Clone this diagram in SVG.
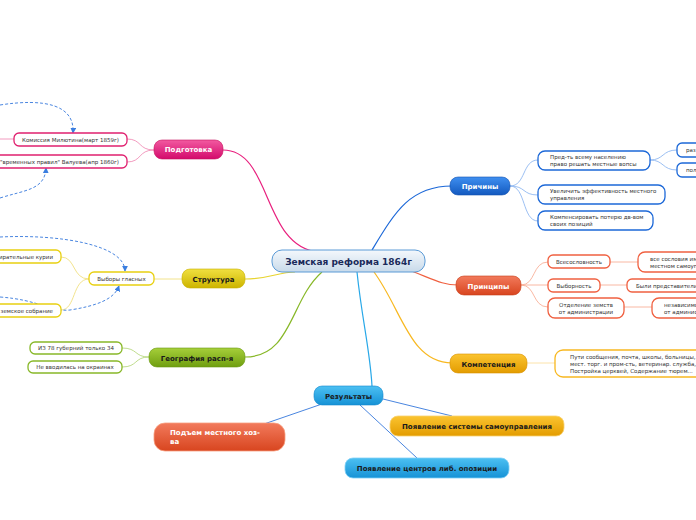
<svg xmlns="http://www.w3.org/2000/svg" width="696" height="520" viewBox="0 0 696 520">
<defs>
<linearGradient id="gC" x1="0" y1="0" x2="0" y2="1"><stop offset="0" stop-color="#f4f8fc"/><stop offset="1" stop-color="#c8daea"/></linearGradient>
<linearGradient id="gPink" x1="0" y1="0" x2="0" y2="1"><stop offset="0" stop-color="#f25aa0"/><stop offset="1" stop-color="#d30a6c"/></linearGradient>
<linearGradient id="gYel" x1="0" y1="0" x2="0" y2="1"><stop offset="0" stop-color="#f0e040"/><stop offset="1" stop-color="#cdb400"/></linearGradient>
<linearGradient id="gGrn" x1="0" y1="0" x2="0" y2="1"><stop offset="0" stop-color="#a6cf3a"/><stop offset="1" stop-color="#6f9e10"/></linearGradient>
<linearGradient id="gBlue" x1="0" y1="0" x2="0" y2="1"><stop offset="0" stop-color="#3f8ff0"/><stop offset="1" stop-color="#1359bf"/></linearGradient>
<linearGradient id="gRed" x1="0" y1="0" x2="0" y2="1"><stop offset="0" stop-color="#f27a5c"/><stop offset="1" stop-color="#d8451f"/></linearGradient>
<linearGradient id="gOr" x1="0" y1="0" x2="0" y2="1"><stop offset="0" stop-color="#fbc430"/><stop offset="1" stop-color="#e39c00"/></linearGradient>
<linearGradient id="gSky" x1="0" y1="0" x2="0" y2="1"><stop offset="0" stop-color="#4cc0f2"/><stop offset="1" stop-color="#1692d6"/></linearGradient>
<marker id="arr" viewBox="0 0 8 8" refX="7" refY="4" markerWidth="6" markerHeight="6" orient="auto"><path d="M0,0 L8,4 L0,8 z" fill="#3a7ee0"/></marker>
</defs>
<style>
text{font-family:"DejaVu Sans","Liberation Sans",sans-serif}
.s{font-size:5.5px;fill:#333}
.t{font-size:7px;font-weight:bold}
.w{fill:#fff}
.d{fill:#1a1a1a}
.leaf{fill:#fff;stroke-width:1.3}
.c{fill:none;stroke-width:1.2}
.dash{fill:none;stroke:#4a86e0;stroke-width:1;stroke-dasharray:3,2}
</style>

<g id="connectors">
<path class="c" stroke="#e8207e" d="M223,150 C272,150 262,246 318,252"/>
<path class="c" stroke="#1c68d8" d="M372,250 C395,212 410,186 452,186"/>
<path class="c" stroke="#f06040" d="M398,266 C432,278 440,285 458,285"/>
<path class="c" stroke="#f8b820" d="M374,272 C402,310 410,363 452,363"/>
<path class="c" stroke="#28a8e8" d="M357,272 C362,320 370,350 372,386"/>
<path class="c" stroke="#88b828" d="M322,272 C290,300 292,357 245,357"/>
<path class="c" stroke="#e8d430" d="M245,279 C270,279 278,272 295,272"/>
<g stroke-width="0.9" fill="none">
<path stroke="#f090b8" d="M154,150 C138,150 142,139 127,139"/>
<path stroke="#f090b8" d="M154,150 C138,150 142,162 127,162"/>
<path stroke="#f090b8" d="M0,139 L14,139"/>
<path stroke="#f0e080" d="M154,279 L182,279"/>
<path stroke="#f0e080" d="M89,279 C72,279 76,257 61,257"/>
<path stroke="#f0e080" d="M89,279 C72,279 76,310 61,310"/>
<path stroke="#b8d880" d="M149,357 C134,357 138,348 122,348"/>
<path stroke="#b8d880" d="M149,357 C134,357 138,367 122,367"/>
<path stroke="#90b8f0" d="M510,186 C526,186 522,160 538,160"/>
<path stroke="#90b8f0" d="M510,186 C526,186 522,195 538,195"/>
<path stroke="#90b8f0" d="M510,186 C526,186 522,221 538,221"/>
<path stroke="#90b8f0" d="M650,160 C664,160 662,150 677,150"/>
<path stroke="#90b8f0" d="M650,160 C664,160 662,170 677,170"/>
<path stroke="#f8b098" d="M521,285 C536,285 532,262 548,262"/>
<path stroke="#f8b098" d="M521,285 L548,285"/>
<path stroke="#f8b098" d="M521,285 C536,285 532,307 548,307"/>
<path stroke="#f8b098" d="M610,262 L638,262"/>
<path stroke="#f8b098" d="M600,285 L627,285"/>
<path stroke="#f8b098" d="M624,307 L652,307"/>
<path stroke="#fce0a0" d="M527,363 L555,363"/>
</g>
<g stroke="#4a86e0" stroke-width="1">
<path d="M322,404 L264,424"/>
<path d="M383,399 L452,416"/>
<path d="M360,405 L417,458"/>
</g>
<path class="dash" marker-end="url(#arr)" d="M0,105 C45,98 75,105 73,133"/>
<path class="dash" marker-end="url(#arr)" d="M0,198 C25,190 45,190 46,168"/>
<path class="dash" marker-end="url(#arr)" d="M0,237 C60,234 125,245 125,271"/>
<path class="dash" marker-end="url(#arr)" d="M0,297 C40,300 50,312 70,310 C95,306 114,300 119,286"/>
</g>

<g id="center">
<rect x="272" y="250" width="153" height="22" rx="10" fill="url(#gC)" stroke="#5a9ad6" stroke-width="1"/>
<text x="348.5" y="264.5" text-anchor="middle" font-size="9" font-weight="bold" fill="#1a2a5a">Земская реформа 1864г</text>
</g>

<g id="podgotovka">
<rect x="154" y="140" width="69" height="19" rx="8" fill="url(#gPink)" stroke="#c8105e" stroke-width="0.6"/>
<text class="t w" x="188.5" y="152" text-anchor="middle">Подготовка</text>
</g>
<g id="milutin">
<rect class="leaf" x="14" y="133" width="113" height="13" rx="5" stroke="#e0206f"/>
<text class="s" x="70.5" y="141.5" text-anchor="middle">Комиссия Милютина(март 1859г)</text>
</g>
<g id="valuev">
<rect class="leaf" x="-20" y="155" width="147" height="13" rx="5" stroke="#e0206f"/>
<text class="s" x="119" y="163.5" text-anchor="end">"временных правил" Валуева(апр 1860г)</text>
</g>

<g id="struktura">
<rect x="182" y="269" width="63" height="19" rx="8" fill="url(#gYel)" stroke="#c8b000" stroke-width="0.6"/>
<text class="t d" x="213.5" y="281.5" text-anchor="middle">Структура</text>
</g>
<g id="vybory">
<rect class="leaf" x="89" y="272" width="65" height="13" rx="5" stroke="#e8d010"/>
<text class="s" x="121.5" y="280.5" text-anchor="middle">Выборы гласных</text>
</g>
<g id="kurii">
<rect class="leaf" x="-20" y="250" width="81" height="13" rx="5" stroke="#e8d010"/>
<text class="s" x="53" y="258.5" text-anchor="end">Избирательные курии</text>
</g>
<g id="sobranie">
<rect class="leaf" x="-20" y="304" width="81" height="13" rx="5" stroke="#e8d010"/>
<text class="s" x="53" y="312.5" text-anchor="end">Уездное земское собрание</text>
</g>

<g id="geografia">
<rect x="149" y="348" width="96" height="19" rx="8" fill="url(#gGrn)" stroke="#6a9810" stroke-width="0.6"/>
<text class="t d" x="197" y="360.5" text-anchor="middle">География расп-я</text>
</g>
<g id="geo1">
<rect class="leaf" x="30" y="342" width="92" height="12" rx="5" stroke="#88b828"/>
<text class="s" x="76" y="350" text-anchor="middle">ИЗ 78 губерний только 34</text>
</g>
<g id="geo2">
<rect class="leaf" x="28" y="361" width="94" height="12" rx="5" stroke="#88b828"/>
<text class="s" x="75" y="369" text-anchor="middle">Не вводилась на окраинах</text>
</g>

<g id="prichiny">
<rect x="450" y="177" width="60" height="18" rx="8" fill="url(#gBlue)" stroke="#1050b0" stroke-width="0.6"/>
<text class="t w" x="480" y="188.5" text-anchor="middle">Причины</text>
</g>
<g id="pr1">
<rect class="leaf" x="538" y="151" width="112" height="19" rx="7" stroke="#1c68d8"/>
<text class="s" x="550" y="159">Пред-ть всему населению</text>
<text class="s" x="550" y="165.5">право решать местные вопсы</text>
</g>
<g id="pr2">
<rect class="leaf" x="538" y="185" width="127" height="19" rx="7" stroke="#1c68d8"/>
<text class="s" x="550" y="193">Увеличить эффективность местного</text>
<text class="s" x="550" y="199.5">управления</text>
</g>
<g id="pr3">
<rect class="leaf" x="538" y="211" width="115" height="19" rx="7" stroke="#1c68d8"/>
<text class="s" x="550" y="219">Компенсировать потерю дв-вом</text>
<text class="s" x="550" y="225.5">своих позиций</text>
</g>
<g id="pr1a">
<rect class="leaf" x="677" y="143" width="40" height="14" rx="5" stroke="#1c68d8"/>
<text class="s" x="686" y="152">раз</text>
</g>
<g id="pr1b">
<rect class="leaf" x="677" y="163" width="40" height="14" rx="5" stroke="#1c68d8"/>
<text class="s" x="686" y="172">пол</text>
</g>

<g id="principy">
<rect x="456" y="276" width="65" height="19" rx="8" fill="url(#gRed)" stroke="#c83c18" stroke-width="0.6"/>
<text class="t w" x="488.5" y="288.5" text-anchor="middle">Принципы</text>
</g>
<g id="vses">
<rect class="leaf" x="548" y="255" width="62" height="13" rx="5" stroke="#f06040"/>
<text class="s" x="579" y="263.5" text-anchor="middle">Всесословность</text>
</g>
<g id="vybornost">
<rect class="leaf" x="548" y="279" width="52" height="13" rx="5" stroke="#f06040"/>
<text class="s" x="574" y="287.5" text-anchor="middle">Выборность</text>
</g>
<g id="otdelenie">
<rect class="leaf" x="548" y="298" width="76" height="20" rx="7" stroke="#f06040"/>
<text class="s" x="586" y="306.5" text-anchor="middle">Отделение земств</text>
<text class="s" x="586" y="313.5" text-anchor="middle">от администрации</text>
</g>
<g id="vses2">
<rect class="leaf" x="638" y="252" width="80" height="20" rx="7" stroke="#f06040"/>
<text class="s" x="650" y="260.5">все сословия им</text>
<text class="s" x="650" y="267.5">местном самоуп</text>
</g>
<g id="vyb2">
<rect class="leaf" x="627" y="279" width="90" height="13" rx="5" stroke="#f06040"/>
<text class="s" x="636" y="287.5">Были представители</text>
</g>
<g id="otd2">
<rect class="leaf" x="652" y="298" width="70" height="20" rx="7" stroke="#f06040"/>
<text class="s" x="664" y="306.5">независимо</text>
<text class="s" x="664" y="313.5">от админис</text>
</g>

<g id="kompetencia">
<rect x="450" y="354" width="77" height="19" rx="8" fill="url(#gOr)" stroke="#d89000" stroke-width="0.6"/>
<text class="t d" x="488.5" y="366.5" text-anchor="middle">Компетенция</text>
</g>
<g id="komp1">
<rect class="leaf" x="555" y="350" width="160" height="27" rx="8" stroke="#f8b820"/>
<text class="s" x="570" y="359">Пути сообщения, почта, школы, больницы,</text>
<text class="s" x="570" y="366">мест. торг. и пром-сть, ветеринар. служба,</text>
<text class="s" x="570" y="373">Постройка церквей, Содержание тюрем...</text>
</g>

<g id="rezultaty">
<rect x="314" y="386" width="69" height="19" rx="8" fill="url(#gSky)" stroke="#1288cc" stroke-width="0.6"/>
<text class="t d" x="348.5" y="398.5" text-anchor="middle">Результаты</text>
</g>
<g id="podem">
<rect x="154" y="423" width="131" height="28" rx="11" fill="url(#gRed)" stroke="#f8a080" stroke-width="0.8"/>
<text class="t w" x="170" y="435">Подъем местного хоз-</text>
<text class="t w" x="170" y="444">ва</text>
</g>
<g id="sistema">
<rect x="390" y="416" width="174" height="20" rx="8" fill="url(#gOr)" stroke="#f8d070" stroke-width="0.8"/>
<text class="t d" x="477" y="428.5" text-anchor="middle">Появление системы самоуправления</text>
</g>
<g id="oppozicia">
<rect x="345" y="458" width="164" height="20" rx="8" fill="url(#gSky)" stroke="#80d0f8" stroke-width="0.8"/>
<text class="t d" x="427" y="470.5" text-anchor="middle">Появление центров либ. опозиции</text>
</g>
</svg>
